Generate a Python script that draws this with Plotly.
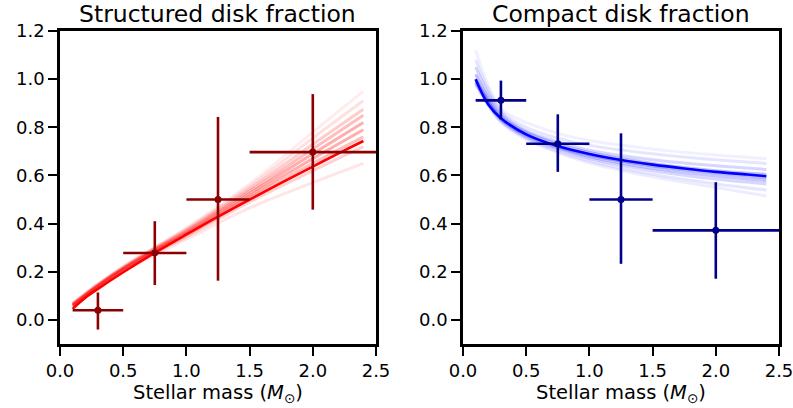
import plotly.graph_objects as go

# ---------------- data ----------------
bin_mass = [0.3, 0.75, 1.25, 2.0]
bin_lo = [0.1, 0.5, 1.0, 1.5]
bin_hi = [0.5, 1.0, 1.5, 2.5]

struct_frac = [0.04, 0.278, 0.50, 0.697]
struct_lo = [-0.04, 0.145, 0.163, 0.458]
struct_hi = [0.114, 0.41, 0.843, 0.938]

compact_frac = [0.912, 0.732, 0.50, 0.372]
compact_lo = [0.833, 0.615, 0.233, 0.171]
compact_hi = [0.994, 0.854, 0.775, 0.572]

fit_mass = [0.1, 0.2, 0.3, 0.5, 0.75, 1.0, 1.25, 1.5, 1.75, 2.0, 2.25, 2.4]
struct_fit = [0.046, 0.092, 0.129, 0.198, 0.279, 0.355, 0.429, 0.500, 0.569, 0.637, 0.704, 0.743]
compact_fit = [1.000, 0.895, 0.838, 0.771, 0.722, 0.689, 0.664, 0.645, 0.629, 0.615, 0.604, 0.597]

draw_mass = [0.1, 0.3, 0.5, 0.75, 1.0, 1.5, 2.0, 2.4]
struct_draws = [
    [0.050, 0.130, 0.200, 0.270, 0.335, 0.465, 0.570, 0.650],
    [0.055, 0.135, 0.205, 0.278, 0.345, 0.490, 0.620, 0.720],
    [0.058, 0.138, 0.208, 0.283, 0.352, 0.505, 0.650, 0.760],
    [0.060, 0.140, 0.210, 0.287, 0.358, 0.515, 0.670, 0.790],
    [0.062, 0.142, 0.213, 0.290, 0.363, 0.525, 0.690, 0.820],
    [0.064, 0.144, 0.215, 0.293, 0.368, 0.535, 0.710, 0.850],
    [0.066, 0.146, 0.218, 0.297, 0.373, 0.545, 0.730, 0.875],
    [0.068, 0.148, 0.220, 0.300, 0.378, 0.555, 0.755, 0.910],
    [0.070, 0.150, 0.222, 0.303, 0.383, 0.565, 0.780, 0.950],
]
struct_draw_alpha = [0.1, 0.18, 0.26, 0.32, 0.32, 0.26, 0.2, 0.12, 0.07]
compact_draws = [
    [1.120, 0.880, 0.820, 0.775, 0.745, 0.710, 0.685, 0.670],
    [1.080, 0.870, 0.800, 0.755, 0.725, 0.690, 0.665, 0.650],
    [1.050, 0.860, 0.785, 0.740, 0.705, 0.665, 0.640, 0.625],
    [1.020, 0.850, 0.780, 0.730, 0.695, 0.650, 0.620, 0.605],
    [1.000, 0.840, 0.770, 0.720, 0.685, 0.640, 0.610, 0.590],
    [0.990, 0.835, 0.765, 0.715, 0.678, 0.630, 0.598, 0.578],
    [0.985, 0.830, 0.760, 0.710, 0.670, 0.620, 0.585, 0.565],
    [0.980, 0.825, 0.755, 0.700, 0.660, 0.605, 0.565, 0.540],
    [0.975, 0.820, 0.750, 0.695, 0.652, 0.595, 0.550, 0.515],
]
compact_draw_alpha = [0.06, 0.1, 0.16, 0.25, 0.28, 0.22, 0.16, 0.1, 0.07]

titles = ["Structured disk fraction", "Compact disk fraction"]
x_label = "Stellar mass (<i>M</i><sub>⊙</sub>)"
x_ticks = [0.0, 0.5, 1.0, 1.5, 2.0, 2.5]
y_ticks = [0.0, 0.2, 0.4, 0.6, 0.8, 1.0, 1.2]

# ---------------- figure ----------------
W, H = 793, 408
fig = go.Figure()

panels = [
    dict(xa="x", ya="y", draws=struct_draws, alpha=struct_draw_alpha, fit=struct_fit,
         frac=struct_frac, lo=struct_lo, hi=struct_hi, rgb="255,0,0",
         fit_col="#ff0000", pt_col="#8b0000"),
    dict(xa="x2", ya="y2", draws=compact_draws, alpha=compact_draw_alpha, fit=compact_fit,
         frac=compact_frac, lo=compact_lo, hi=compact_hi, rgb="0,0,255",
         fit_col="#0000ff", pt_col="#00008b"),
]

for p in panels:
    for d, a in zip(p["draws"], p["alpha"]):
        fig.add_trace(go.Scatter(x=draw_mass, y=d, mode="lines", xaxis=p["xa"], yaxis=p["ya"],
                                 line=dict(color=f"rgba({p['rgb']},{a})", width=3, shape="spline"),
                                 showlegend=False, hoverinfo="skip"))
    fig.add_trace(go.Scatter(x=fit_mass, y=p["fit"], mode="lines", xaxis=p["xa"], yaxis=p["ya"],
                             line=dict(color=p["fit_col"], width=2.6, shape="spline"),
                             showlegend=False))
    fig.add_trace(go.Scatter(
        x=bin_mass, y=p["frac"], mode="markers", xaxis=p["xa"], yaxis=p["ya"],
        marker=dict(color=p["pt_col"], size=7),
        error_x=dict(type="data", symmetric=False,
                     array=[h - m for h, m in zip(bin_hi, bin_mass)],
                     arrayminus=[m - l for l, m in zip(bin_lo, bin_mass)],
                     color=p["pt_col"], thickness=2.6, width=0),
        error_y=dict(type="data", symmetric=False,
                     array=[h - f for h, f in zip(p["hi"], p["frac"])],
                     arrayminus=[f - l for l, f in zip(p["lo"], p["frac"])],
                     color=p["pt_col"], thickness=2.6, width=0),
        showlegend=False))

xdoms = [[60 / W, 376 / W], [463 / W, 779 / W]]
ydom = [1 - 344 / H, 1 - 31 / H]
font = "DejaVu Sans"

axis_common = dict(showgrid=False, zeroline=False, showline=True, linecolor="black",
                   linewidth=2.5, mirror=True, ticks="outside", ticklen=9, tickwidth=1.6,
                   tickcolor="black", automargin=False, ticklabeloverflow="allow",
                   tickfont=dict(family=font, size=18, color="black"))

fig.update_layout(
    width=W, height=H, margin=dict(l=0, r=0, t=0, b=0, autoexpand=False),
    paper_bgcolor="white", plot_bgcolor="white",
    xaxis=dict(domain=xdoms[0], range=[0, 2.5], tickvals=x_ticks,
               ticktext=[f"{v:.1f}" for v in x_ticks], anchor="y", **axis_common),
    yaxis=dict(domain=ydom, range=[-0.1, 1.2], tickvals=y_ticks,
               ticktext=[f"{v:.1f}" for v in y_ticks], anchor="x", **axis_common),
    xaxis2=dict(domain=xdoms[1], range=[0, 2.5], tickvals=x_ticks,
                ticktext=[f"{v:.1f}" for v in x_ticks], anchor="y2", **axis_common),
    yaxis2=dict(domain=ydom, range=[-0.1, 1.2], tickvals=y_ticks,
                ticktext=[f"{v:.1f}" for v in y_ticks], anchor="x2", **axis_common),
)

for i, t in enumerate(titles):
    cx = (xdoms[i][0] + xdoms[i][1]) / 2
    fig.add_annotation(text=t, x=cx, y=1 - 14 / H,
                       xref="paper", yref="paper", xanchor="center", yanchor="middle",
                       showarrow=False, font=dict(family=font, size=23.5, color="black"))
    fig.add_annotation(text=x_label, x=cx, y=1 - 393 / H,
                       xref="paper", yref="paper", xanchor="center", yanchor="middle",
                       showarrow=False, font=dict(family=font, size=19.5, color="black"))

fig.write_html("out.html", config={"displayModeBar": False},
               post_script="document.body.style.margin='0';document.body.style.overflow='hidden';")
